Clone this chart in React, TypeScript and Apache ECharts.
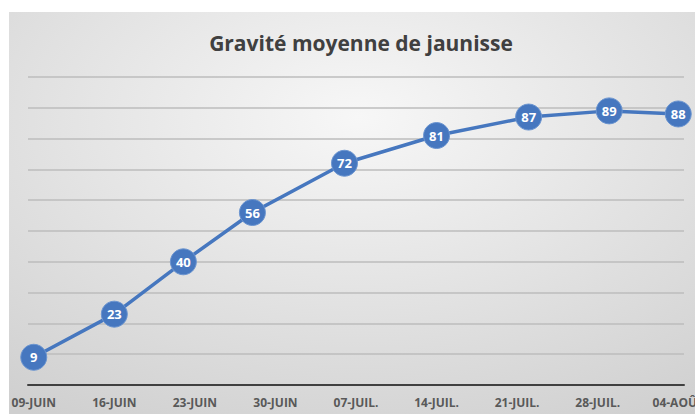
import React, { useEffect, useRef } from "react";
import * as echarts from "echarts";

const titleText = "Gravité moyenne de jaunisse";
const dates = ["2024-06-09", "2024-06-16", "2024-06-22", "2024-06-28", "2024-07-06", "2024-07-14", "2024-07-22", "2024-07-29", "2024-08-04"];
const values = [9, 23, 40, 56, 72, 81, 87, 89, 88];
const tickLabels = ["09-JUIN", "16-JUIN", "23-JUIN", "30-JUIN", "07-JUIL.", "14-JUIL.", "21-JUIL.", "28-JUIL.", "04-AOÛT"];

const DAY = 86400000;
const start = Date.parse(dates[0]);
const dayOf = (d: string) => Math.round((Date.parse(d) - start) / DAY);

export default function App() {
  const ref = useRef<HTMLDivElement>(null);
  useEffect(() => {
    const chart = echarts.init(ref.current!, null, { renderer: "svg" });
    const tickDays = tickLabels.map((_, i) => i * 7);
    chart.setOption({
      animation: false,
      backgroundColor: "#ffffff",
      graphic: [
        {
          type: "rect",
          z: -10,
          silent: true,
          shape: { x: 9, y: 12, width: 700, height: 420 },
          style: {
            fill: {
              type: "radial",
              x: 0.5,
              y: 0.25,
              r: 0.85,
              colorStops: [
                { offset: 0, color: "#f7f7f7" },
                { offset: 1, color: "#cfcfcf" },
              ],
            },
          },
        },
      ],
      title: {
        text: titleText,
        left: 356,
        textAlign: "center",
        top: 27,
        textStyle: { fontFamily: "Open Sans", fontSize: 21, fontWeight: "bold", color: "#404040" },
      },
      grid: { left: 28, right: 11, top: 77, bottom: 29, outerBoundsMode: "none", containLabel: false },
      xAxis: {
        type: "value",
        min: -0.5,
        max: 56.5,
        splitLine: { show: false },
        axisTick: { show: false },
        axisLine: { show: true, lineStyle: { color: "#404040", width: 2 } },
        axisLabel: {
          customValues: tickDays,
          formatter: (v: number) => tickLabels[Math.round(v / 7)] ?? "",
          fontFamily: "Open Sans",
          fontWeight: "bold",
          fontSize: 12,
          color: "#595959",
          margin: 11,
          hideOverlap: false,
        },
      },
      yAxis: {
        type: "value",
        min: 0,
        max: 100,
        interval: 10,
        axisLabel: { show: false },
        axisLine: { show: false },
        axisTick: { show: false },
        splitLine: { lineStyle: { color: "#bdbdbd", width: 1.5 } },
      },
      series: [
        {
          type: "line",
          data: dates.map((d, i) => [dayOf(d), values[i]]),
          lineStyle: { color: "#4677bf", width: 3.5 },
          symbol: "circle",
          symbolSize: 26,
          itemStyle: { color: "#4677bf", borderColor: "#6a94d0", borderWidth: 1 },
          label: {
            show: true,
            position: "inside",
            color: "#ffffff",
            fontFamily: "Open Sans",
            fontWeight: "bold",
            fontSize: 13,
          },
        },
      ],
    });
    return () => chart.dispose();
  }, []);
  return <div ref={ref} style={{ position: "fixed", left: 0, top: 0, width: 695, height: 414 }} />;
}
